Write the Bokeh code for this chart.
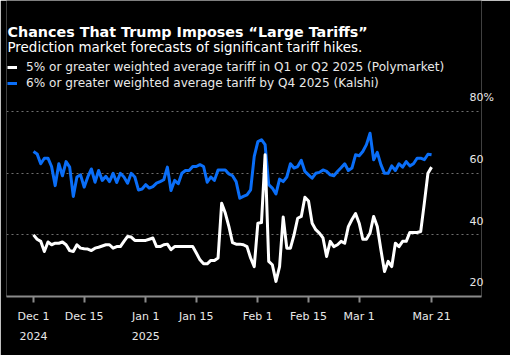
import pandas as pd
from bokeh.plotting import figure
from bokeh.models import (Range1d, FixedTicker, Legend, LegendItem, Label)
from bokeh.embed import file_html
from bokeh.resources import INLINE

# ---- data (daily, Dec 1 2024 .. Mar 21 2025) ----
start_date = "2024-12-01"
polymarket = [40, 38.6, 37.9, 34.6, 37.7, 36.8, 37.3, 37.3, 37.7, 36.8,
              34.9, 34.6, 36.8, 35.7, 35.5, 35.4, 34.9, 35.7, 36.0, 36.4,
              36.8, 36.8, 35.7, 36.2, 36.2, 37.9, 39.5, 39.3, 38.2, 38.2,
              38.2, 38.2, 38.6, 39.0, 36.2, 36.2, 36.8, 37.0, 35.2, 36.2,
              36.2, 36.2, 36.2, 36.2, 36.2, 34.1, 31.9, 30.6, 30.6, 31.7,
              31.7, 32.5, 50.3, 47.1, 42.7, 37.5, 37.0, 37.0, 36.8, 36.2,
              32.5, 29.7, 43.8, 44.0, 66.0, 31.4, 30.3, 24.9, 29.7, 45.8,
              35.7, 35.7, 40.0, 45.4, 46.0, 52.2, 51.0, 43.8, 41.7, 40.6,
              39.0, 33.0, 37.9, 36.2, 36.8, 37.9, 37.3, 42.7, 45.0, 46.9,
              43.8, 38.6, 38.6, 40.6, 46.0, 42.7, 35.2, 28.1, 31.4, 29.7,
              37.3, 36.2, 37.9, 37.9, 40.8, 40.8, 40.8, 41.1, 50.3, 60.0,
              62.0]
kalshi = [67.1, 66.3, 63.1, 64.9, 64.9, 62.2, 56.0, 63.1, 59.2, 63.8,
          62.0, 52.5, 58.8, 59.5, 55.5, 58.8, 61.4, 57.1, 60.9, 57.7,
          59.0, 57.3, 60.0, 57.0, 60.0, 58.8, 56.8, 60.0, 58.8, 54.6,
          54.9, 56.3, 55.2, 55.7, 56.8, 57.3, 57.9, 62.0, 54.4, 57.7,
          56.6, 60.0, 60.9, 60.9, 62.2, 62.2, 62.8, 62.2, 57.1, 58.8,
          57.7, 61.1, 61.1, 61.1, 59.8, 59.2, 57.3, 51.9, 52.5, 53.0,
          54.6, 65.5, 70.3, 70.9, 69.3, 56.3, 55.2, 53.3, 58.1, 57.3,
          58.8, 63.1, 61.7, 62.2, 64.2, 60.6, 59.5, 58.4, 60.0, 60.3,
          61.1, 60.6, 59.5, 59.2, 60.6, 61.8, 63.1, 60.9, 61.7, 66.0,
          65.7, 67.1, 69.3, 73.0, 64.4, 66.8, 62.8, 60.0, 60.0, 62.4,
          60.9, 63.1, 62.0, 63.8, 62.4, 63.1, 64.9, 64.9, 64.4, 66.2,
          66.0]
series_labels = ["5% or greater weighted average tariff in Q1 or Q2 2025 (Polymarket)",
                 "6% or greater weighted average tariff by Q4 2025 (Kalshi)"]
x_tick_dates = ["2024-12-01", "2024-12-15", "2025-01-01", "2025-01-15",
                "2025-02-01", "2025-02-15", "2025-03-01", "2025-03-21"]
x_tick_labels = ["Dec 1\n2024", "Dec 15", "Jan 1\n2025", "Jan 15",
                 "Feb 1", "Feb 15", "Mar 1", "Mar 21"]
y_tick_vals = [20, 40, 60, 80]
y_tick_labels = ["20", "40", "60", "80%"]
title_text = "Chances That Trump Imposes \u201cLarge Tariffs\u201d"
subtitle_text = "Prediction market forecasts of significant tariff hikes."

dates = pd.date_range(start_date, periods=len(kalshi), freq="D")

BG = "#000000"
TXT = "#e8e8e8"
BLUE = "#0a6ef8"
FONT = "DejaVu Sans"

t0 = pd.Timestamp(start_date)
x_start = t0 - pd.Timedelta(days=7.46)
x_end = t0 + pd.Timedelta(days=123.8)

p = figure(width=510, height=355, x_axis_type="datetime", y_axis_location="right",
           x_range=Range1d(x_start, x_end), y_range=Range1d(20, 116.1),
           output_backend="svg", toolbar_location=None,
           background_fill_color=BG, border_fill_color=BG,
           min_border_left=6, min_border_right=29, min_border_top=0, min_border_bottom=59)
p.title.visible = False
p.outline_line_color = None

r_blue = p.line(dates, kalshi, line_color=BLUE, line_width=3, line_join="round")
r_white = p.line(dates, polymarket, line_color="#ffffff", line_width=3, line_join="round")

# x axis
tick_ms = [int(pd.Timestamp(d).value // 10**6) for d in x_tick_dates]
xa = p.xaxis[0]
xa.ticker = FixedTicker(ticks=tick_ms)
xa.major_label_overrides = {k: v for k, v in zip(tick_ms, x_tick_labels)}
xa.axis_line_color = "#8a8a8a"
xa.axis_line_width = 2
xa.major_tick_line_color = "#8a8a8a"
xa.major_tick_line_width = 2
xa.major_tick_in = 0
xa.major_tick_out = 6
xa.minor_tick_line_color = None
xa.major_label_text_color = TXT
xa.major_label_text_font = FONT
xa.major_label_text_font_size = "11px"
xa.major_label_text_line_height = 1.6
xa.major_label_standoff = 7

# y grid and labels (labels sit above their grid lines)
p.xgrid.visible = False
p.ygrid.ticker = FixedTicker(ticks=[v for v in y_tick_vals if v > y_tick_vals[0]])
p.ygrid.grid_line_color = "#6e6e6e"
p.ygrid.grid_line_dash = "2 3"
p.ygrid.grid_line_width = 1

label_shift = 4.5
ya = p.yaxis[0]
ya.ticker = FixedTicker(ticks=[v + label_shift for v in y_tick_vals])
ya.major_label_overrides = {v + label_shift: s for v, s in zip(y_tick_vals, y_tick_labels)}
ya.axis_line_color = None
ya.major_tick_line_color = None
ya.minor_tick_line_color = None
ya.major_tick_out = 0
ya.major_tick_in = 0
ya.major_label_standoff = -12
ya.major_label_text_color = TXT
ya.major_label_text_font = FONT
ya.major_label_text_font_size = "11px"

legend = Legend(items=[LegendItem(label=series_labels[0], renderers=[r_white]),
                       LegendItem(label=series_labels[1], renderers=[r_blue])],
                location=(1, 205), background_fill_alpha=0, border_line_color=None,
                label_text_color=TXT, label_text_font=FONT, label_text_font_size="12.1px",
                glyph_width=10, glyph_height=16, label_height=16, spacing=0, padding=0,
                margin=0, label_standoff=9)
p.add_layout(legend)

p.add_layout(Label(x=1, y=265, x_units="screen", y_units="screen", text=title_text,
                   text_color="#ffffff", text_font=FONT, text_font_style="bold",
                   text_font_size="14.3px", text_baseline="alphabetic"))
p.add_layout(Label(x=1, y=249, x_units="screen", y_units="screen", text=subtitle_text,
                   text_color="#ffffff", text_font=FONT,
                   text_font_size="13.45px", text_baseline="alphabetic"))

open("out.html", "w").write(file_html(p, INLINE))
